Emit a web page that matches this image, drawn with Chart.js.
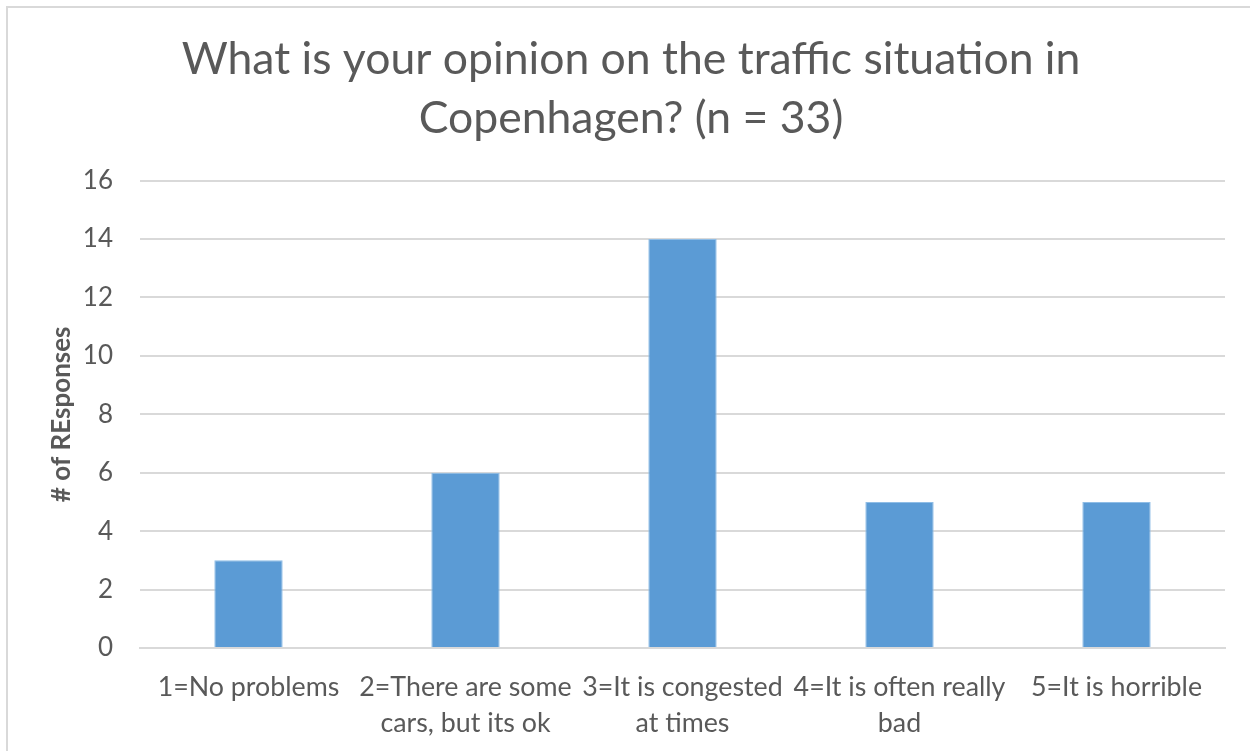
<!DOCTYPE html>
<html>
<head>
<meta charset="utf-8">
<script src="https://cdn.jsdelivr.net/npm/chart.js@4.4.1/dist/chart.umd.min.js"></script>
<style>
  html, body { margin: 0; padding: 0; background: #ffffff; }
  #wrap { position: relative; width: 1250px; height: 751px; }
</style>
</head>
<body>
<div id="wrap"><canvas id="c" width="1250" height="751"></canvas></div>
<script>
const categories = [
  ["1=No problems"],
  ["2=There are some", "cars, but its ok"],
  ["3=It is congested", "at times"],
  ["4=It is often really", "bad"],
  ["5=It is horrible"]
];
const responses = [3, 6, 14, 5, 5];
const titleLines = ["What is your opinion on the traffic situation in", "Copenhagen? (n = 33)"];
const yAxisTitle = "# of REsponses";
const yMin = 0, yMax = 16, yStep = 2;

const FONT = "Lato, 'Open Sans', sans-serif";
const TEXT = "#595959";
const GRID = "#d9d9d9";

const borderPlugin = {
  id: 'frameBorder',
  beforeDraw(chart) {
    const ctx = chart.ctx;
    ctx.save();
    ctx.fillStyle = '#ffffff';
    ctx.fillRect(0, 0, chart.width, chart.height);
    ctx.strokeStyle = GRID;
    ctx.lineWidth = 2;
    ctx.beginPath();
    ctx.moveTo(7, chart.height);
    ctx.lineTo(7, 7);
    ctx.lineTo(chart.width, 7);
    ctx.stroke();
    ctx.restore();
  }
};

new Chart(document.getElementById('c'), {
  type: 'bar',
  data: {
    labels: categories,
    datasets: [{
      data: responses,
      backgroundColor: '#5b9bd5',
      borderColor: '#8fbde6',
      borderWidth: 1,
      categoryPercentage: 1.0,
      barPercentage: 0.315
    }]
  },
  plugins: [borderPlugin],
  options: {
    responsive: false,
    animation: false,
    devicePixelRatio: 1,
    layout: { padding: { top: 0, left: 37, right: 25, bottom: 0 } },
    plugins: {
      legend: { display: false },
      tooltip: { enabled: false },
      title: {
        display: true,
        text: titleLines,
        color: TEXT,
        font: { family: FONT, size: 44.5, weight: 'normal', lineHeight: 1.31 },
        padding: { top: 31, bottom: 33 }
      }
    },
    scales: {
      x: {
        grid: { display: false, drawTicks: false },
        border: { display: true, color: GRID, width: 2 },
        ticks: {
          color: TEXT,
          font: { family: FONT, size: 26.8, lineHeight: 1.32 },
          padding: 22,
          maxRotation: 0,
          autoSkip: false
        },
        afterFit(scale) { scale.height = 103; }
      },
      y: {
        min: yMin, max: yMax,
        grid: { color: GRID, lineWidth: 2, drawTicks: false },
        border: { display: false },
        ticks: {
          stepSize: yStep,
          color: TEXT,
          font: { family: FONT, size: 26 },
          padding: 27
        },
        title: {
          display: true,
          text: yAxisTitle,
          color: TEXT,
          font: { family: FONT, size: 26, weight: 'bold' },
          padding: { top: 9, bottom: 0 }
        },
        afterFit(scale) { scale.width = 103; }
      }
    }
  }
});
</script>
</body>
</html>
